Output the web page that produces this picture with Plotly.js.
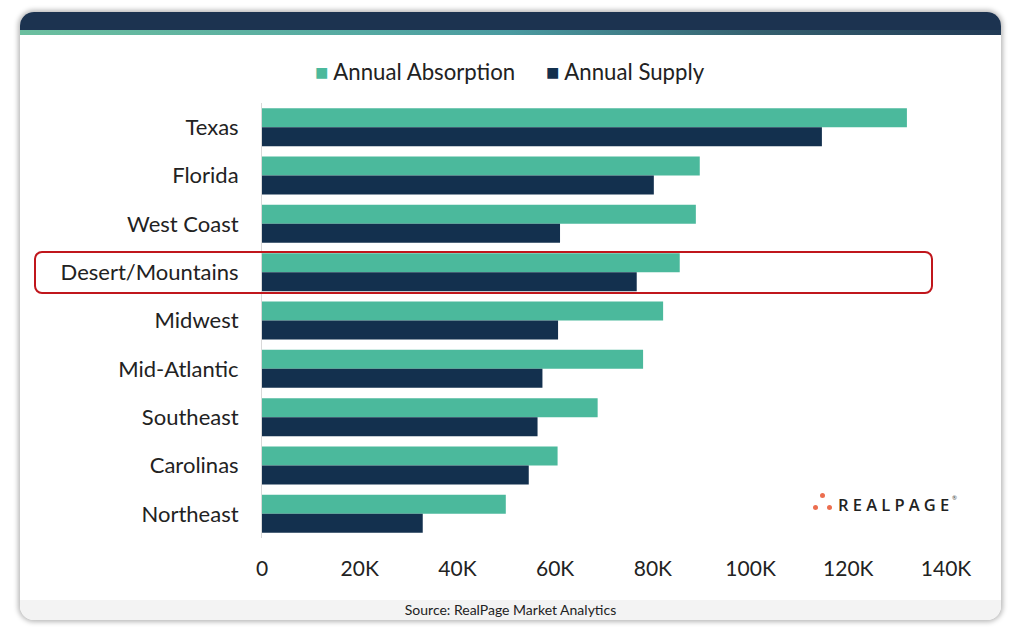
<!DOCTYPE html>
<html>
<head>
<meta charset="utf-8">
<script src="https://cdn.plot.ly/plotly-3.0.1.min.js"></script>
<style>
  html, body { margin:0; padding:0; background:#ffffff; width:1020px; height:633px; overflow:hidden; font-family:Lato, sans-serif; }
  #card { position:absolute; left:20px; top:12px; width:981px; height:608px; border-radius:14px; background:#ffffff;
          box-shadow:0 0 5px 2px rgba(0,0,0,0.28); overflow:hidden; }
  #hdr { position:absolute; left:0; top:0; width:100%; height:18px; background:#1c3350; }
  #strip { position:absolute; left:0; top:18px; width:100%; height:5px;
           background:linear-gradient(to right, #6cbf9f 0%, #55a9a2 35%, #4a9aa0 50%, #35606f 75%, #213a55 100%); }
  #foot { position:absolute; left:0; bottom:0; width:100%; height:20px; background:#f3f3f3; text-align:center;
          font-size:14px; line-height:20px; color:#222; }
  #chart { position:absolute; left:0; top:0; width:1020px; height:633px; }
  #hl { position:absolute; left:34px; top:251px; width:895px; height:39px; border:2px solid #c0161c; border-radius:8px; pointer-events:none; }
  #logo { position:absolute; left:812px; top:492px; height:24px; }
  #logo .d { position:absolute; width:5px; height:5px; border-radius:50%; background:#ec6e4f; }
  #logo .t { position:absolute; left:26px; top:1px; font-family:"Open Sans", Lato, sans-serif; font-size:16.5px; letter-spacing:4.2px; color:#222222; font-weight:600; white-space:nowrap; }
  #logo .r { position:absolute; left:140px; top:2px; font-size:6px; color:#444; }
</style>
</head>
<body>
<div id="card">
  <div id="hdr"></div>
  <div id="strip"></div>
  <div id="foot">Source: RealPage Market Analytics</div>
</div>
<div id="chart"></div>
<div id="hl"></div>
<div id="logo">
  <div class="d" style="left:8px;top:1px;"></div>
  <div class="d" style="left:1px;top:13px;"></div>
  <div class="d" style="left:15px;top:13px;"></div>
  <div class="t">REALPAGE</div>
  <div class="r">®</div>
</div>
<script>
const regions = ["Texas","Florida","West Coast","Desert/Mountains","Midwest","Mid-Atlantic","Southeast","Carolinas","Northeast"];
const absorption = [132000, 89600, 88800, 85500, 82100, 78000, 68700, 60500, 49900];
const supply = [114600, 80200, 61000, 76700, 60600, 57400, 56400, 54600, 32900];
const tickVals = [0, 20000, 40000, 60000, 80000, 100000, 120000, 140000];
const tickText = ["0","20K","40K","60K","80K","100K","120K","140K"];
const seriesNames = ["Annual Absorption", "Annual Supply"];
const seriesColors = ["#4bb99c", "#13304e"];

const traces = [
  {type:'bar', orientation:'h', name:seriesNames[0], y:regions, x:absorption, marker:{color:seriesColors[0]}},
  {type:'bar', orientation:'h', name:seriesNames[1], y:regions, x:supply, marker:{color:seriesColors[1]}}
];

const legendAnn = [
  {text:'<span style="color:' + seriesColors[0] + '">■</span> ' + seriesNames[0], xref:'paper', yref:'paper',
   x:(313-262)/684, xanchor:'left', y:(633-95-70)/436, yanchor:'middle'},
  {text:'<span style="color:' + seriesColors[1] + '">■</span> ' + seriesNames[1], xref:'paper', yref:'paper',
   x:(544-262)/684, xanchor:'left', y:(633-95-70)/436, yanchor:'middle'}
].map(a => Object.assign(a, {showarrow:false, font:{size:22.2, color:'#222222', family:'Lato, sans-serif'}}));

const layout = {
  width:1020, height:633,
  paper_bgcolor:'rgba(0,0,0,0)', plot_bgcolor:'rgba(0,0,0,0)',
  margin:{l:262, r:74, t:103, b:95, pad:0},
  barmode:'group', bargap:0.215, bargroupgap:0,
  font:{family:'Lato, sans-serif', size:22, color:'#222222'},
  showlegend:false,
  annotations:legendAnn,
  xaxis:{range:[0,140000], tickvals:tickVals, ticktext:tickText, showgrid:false, zeroline:false, showline:false,
         ticks:'', ticklabelstandoff:16, tickfont:{size:21, color:'#222222'}, fixedrange:true},
  yaxis:{autorange:'reversed', showgrid:false, zeroline:false, showline:true, linecolor:'#d9d9d9', linewidth:1,
         ticks:'', ticklabelstandoff:18, tickfont:{size:22, color:'#222222'}, fixedrange:true}
};

Plotly.newPlot('chart', traces, layout, {displayModeBar:false, staticPlot:true});
</script>
</body>
</html>
